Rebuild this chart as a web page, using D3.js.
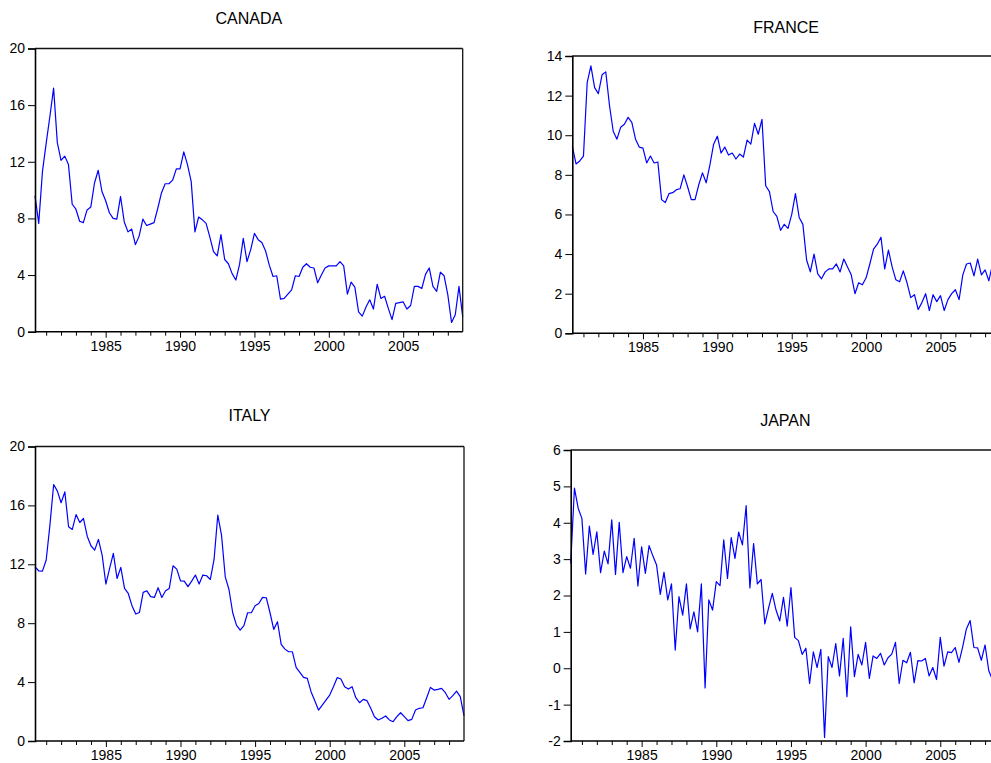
<!DOCTYPE html>
<html>
<head>
<meta charset="utf-8">
<script src="https://cdn.jsdelivr.net/npm/d3@7"></script>
<style>
  html, body { margin: 0; padding: 0; background: #fff; }
  svg { display: block; font-family: "Liberation Sans", Arial, Helvetica, sans-serif; }
</style>
</head>
<body>
<svg id="chart" width="991" height="763"></svg>
<script>
// Quarterly series, first observation 1980Q2
const firstYear = 1980, firstQuarter = 2;
const lastTime = 2009.0;

const canada = [9.6,7.65,11.3,13.3,15.2,17.2,13.35,12.1,12.4,11.8,
  9.0,8.65,7.8,7.7,8.6,8.8,10.5,11.4,9.9,9.25,
  8.4,8.0,7.95,9.55,7.75,7.05,7.25,6.15,6.75,7.95,
  7.5,7.6,7.7,8.7,9.8,10.45,10.45,10.7,11.5,11.5,
  12.7,11.8,10.6,7.05,8.1,7.9,7.65,6.7,5.65,5.35,
  6.85,5.1,4.8,4.1,3.65,4.75,6.6,4.95,5.8,6.95,
  6.5,6.3,5.7,4.7,3.9,3.95,2.3,2.35,2.65,2.95,
  3.95,3.9,4.55,4.8,4.55,4.5,3.45,4.0,4.5,4.65,
  4.65,4.65,4.95,4.65,2.65,3.5,3.15,1.4,1.1,1.75,
  2.25,1.6,3.35,2.35,2.5,1.65,0.85,2.0,2.05,2.1,
  1.6,1.85,3.2,3.2,3.05,4.05,4.5,3.2,2.85,4.2,
  3.95,2.6,0.65,1.2,3.2,1.05];

const france = [9.45,8.55,8.7,8.95,12.65,13.5,12.4,12.1,13.05,13.2,
  11.5,10.2,9.8,10.4,10.55,10.9,10.65,9.8,9.4,9.35,
  8.6,8.95,8.6,8.65,6.75,6.6,7.05,7.1,7.25,7.3,
  8.0,7.4,6.75,6.75,7.5,8.1,7.6,8.5,9.55,9.95,
  9.1,9.4,9.0,9.1,8.8,9.05,8.9,9.75,9.55,10.6,
  10.05,10.8,7.45,7.15,6.15,5.9,5.2,5.5,5.3,6.0,
  7.05,5.85,5.5,3.7,3.1,4.0,3.0,2.75,3.1,3.25,
  3.25,3.5,3.1,3.75,3.35,2.95,2.0,2.55,2.45,2.8,
  3.5,4.25,4.5,4.85,3.25,4.2,3.35,2.7,2.6,3.15,
  2.55,1.8,1.95,1.2,1.55,2.0,1.15,1.95,1.6,1.9,
  1.15,1.7,2.0,2.2,1.7,2.95,3.5,3.55,2.9,3.75,
  2.95,3.2,2.65,3.5];

const italy = [11.83,11.56,11.54,12.29,14.66,17.42,16.97,16.18,16.92,14.55,
  14.37,15.38,14.84,15.11,13.91,13.26,12.96,13.69,12.62,10.66,
  11.72,12.74,11.04,11.79,10.36,10.02,9.19,8.62,8.73,10.09,
  10.2,9.8,9.75,10.41,9.75,10.2,10.36,11.9,11.67,10.88,
  10.86,10.48,10.86,11.27,10.66,11.27,11.22,10.97,12.33,15.34,
  13.98,11.15,10.29,8.71,7.87,7.53,7.83,8.71,8.71,9.19,
  9.34,9.75,9.73,8.71,7.58,8.1,6.56,6.24,6.06,6.06,
  5.0,4.66,4.32,4.25,3.35,2.74,2.1,2.44,2.78,3.12,
  3.69,4.3,4.21,3.69,3.53,3.69,2.94,2.6,2.83,2.74,
  2.22,1.65,1.43,1.54,1.7,1.43,1.31,1.65,1.92,1.65,
  1.38,1.47,2.1,2.22,2.26,2.94,3.64,3.46,3.51,3.57,
  3.28,2.83,3.08,3.39,3.01,1.7];

const japan = [2.88,4.95,4.4,4.12,2.59,3.91,3.13,3.75,2.63,3.22,
  2.87,4.08,2.58,4.01,2.63,3.07,2.75,3.57,2.26,3.34,
  2.61,3.37,3.09,2.84,2.03,2.64,1.88,2.32,0.5,1.97,
  1.46,2.32,1.08,1.55,1.0,2.32,-0.54,1.88,1.6,2.38,
  2.27,3.53,2.47,3.59,3.02,3.74,3.39,4.47,2.21,3.43,
  2.32,2.44,1.22,1.65,2.06,1.6,1.3,1.95,1.16,2.22,
  0.85,0.76,0.38,0.55,-0.42,0.45,0.02,0.52,-1.9,0.32,
  0.02,0.68,-0.21,0.82,-0.78,1.14,-0.23,0.38,0.09,0.71,
  -0.28,0.34,0.27,0.41,0.09,0.29,0.39,0.71,-0.42,0.22,
  0.15,0.44,-0.4,0.21,0.2,0.27,-0.21,0.02,-0.31,0.85,
  0.06,0.45,0.43,0.57,0.16,0.59,1.08,1.31,0.57,0.56,
  0.22,0.64,-0.07,-0.32];

const titles = ["CANADA", "FRANCE", "ITALY", "JAPAN"];
const yTicksCanada = [0, 4, 8, 12, 16, 20];
const yTicksFrance = [0, 2, 4, 6, 8, 10, 12, 14];
const yTicksItaly = [0, 4, 8, 12, 16, 20];
const yTicksJapan = [-2, -1, 0, 1, 2, 3, 4, 5, 6];
const yearLabels = [1985, 1990, 1995, 2000, 2005];
const minorYears = d3.range(1981, 2009);

// Panel placement
const panels = [
  { title: titles[0], values: canada, yTicks: yTicksCanada, left: 35,    right: 462.7, top: 48.5, bottom: 331.7, titleY: 24 },
  { title: titles[1], values: france, yTicks: yTicksFrance, left: 572.3, right: 1000,  top: 56,   bottom: 333.3, titleY: 33 },
  { title: titles[2], values: italy,  yTicks: yTicksItaly,  left: 35,    right: 464,   top: 446.5, bottom: 741, titleY: 421 },
  { title: titles[3], values: japan,  yTicks: yTicksJapan,  left: 570.7, right: 1000,  top: 450,  bottom: 741,   titleY: 426 }
];

const timeOf = i => firstYear + (firstQuarter - 1) / 4 + i / 4;
// Plain hyphen for negative tick labels
const plainNumber = d => String(d);

const svg = d3.select("#chart");
svg.append("rect").attr("width", 991).attr("height", 763).attr("fill", "#fff");

panels.forEach(p => {
  const x = d3.scaleLinear().domain([timeOf(0), lastTime]).range([p.left, p.right]);
  const y = d3.scaleLinear().domain(d3.extent(p.yTicks)).range([p.bottom, p.top]);
  const g = svg.append("g");

  // Title
  g.append("text")
    .attr("x", (p.left + p.right) / 2)
    .attr("y", p.titleY)
    .attr("text-anchor", "middle")
    .attr("font-size", 16)
    .attr("fill", "#000")
    .text(p.title);

  // Series line
  const line = d3.line()
    .x((d, i) => x(timeOf(i)))
    .y(d => y(d));
  g.append("path")
    .datum(p.values)
    .attr("fill", "none")
    .attr("stroke", "#0000ff")
    .attr("stroke-width", 1.2)
    .attr("stroke-linejoin", "round")
    .attr("d", line);

  // Frame: top and right edges
  g.append("line")
    .attr("x1", p.left).attr("x2", p.right)
    .attr("y1", p.top).attr("y2", p.top)
    .attr("stroke", "#111").attr("stroke-width", 1.3);
  g.append("line")
    .attr("x1", p.right).attr("x2", p.right)
    .attr("y1", p.top).attr("y2", p.bottom)
    .attr("stroke", "#111").attr("stroke-width", 1.3);

  // Left axis
  const yAxis = d3.axisLeft(y)
    .tickValues(p.yTicks)
    .tickSize(7)
    .tickPadding(3)
    .tickFormat(plainNumber);
  const ya = g.append("g")
    .attr("transform", `translate(${p.left},0)`)
    .call(yAxis);
  ya.select(".domain").attr("stroke", "#000").attr("stroke-width", 1.6);
  ya.selectAll(".tick line").attr("stroke", "#000").attr("stroke-width", 1);
  ya.selectAll("text").attr("font-size", 14).attr("fill", "#000")
    .attr("font-family", '"Liberation Sans", Arial, sans-serif');

  // Bottom axis: minor ticks each year, labelled every five years
  const xMinor = d3.axisBottom(x)
    .tickValues(minorYears.filter(v => !yearLabels.includes(v)))
    .tickSize(4)
    .tickFormat("");
  const xm = g.append("g")
    .attr("transform", `translate(0,${p.bottom})`)
    .call(xMinor);
  xm.select(".domain").remove();
  xm.selectAll(".tick line").attr("stroke", "#000").attr("stroke-width", 1);

  const xAxis = d3.axisBottom(x)
    .tickValues(yearLabels)
    .tickSize(6)
    .tickPadding(3)
    .tickFormat(plainNumber);
  const xa = g.append("g")
    .attr("transform", `translate(0,${p.bottom})`)
    .call(xAxis);
  xa.select(".domain").attr("stroke", "#000").attr("stroke-width", 1.6)
    .attr("d", `M${p.left},0H${p.right}`);
  xa.selectAll(".tick line").attr("stroke", "#000").attr("stroke-width", 1);
  xa.selectAll("text").attr("font-size", 14).attr("fill", "#000")
    .attr("font-family", '"Liberation Sans", Arial, sans-serif');
});
</script>
</body>
</html>
